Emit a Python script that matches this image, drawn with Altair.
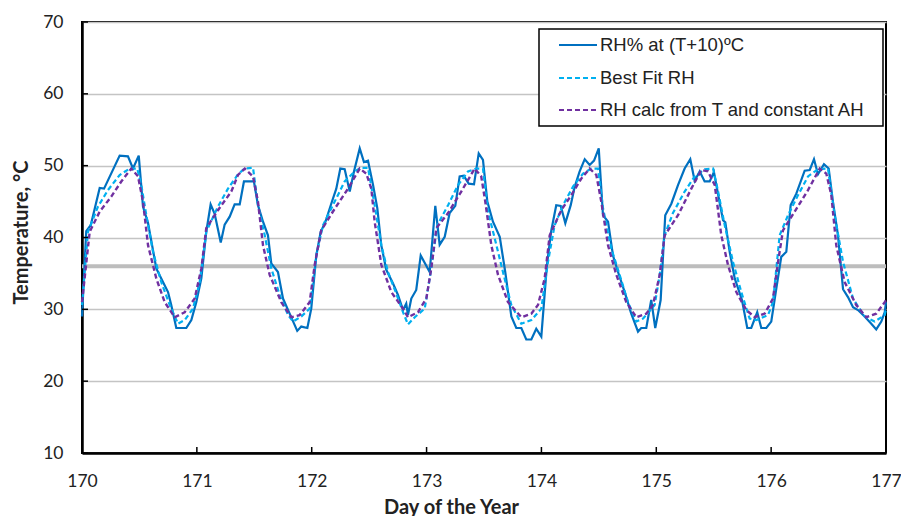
import altair as alt
import pandas as pd

series_names = ["RH% at (T+10)ºC", "Best Fit RH", "RH calc from T and constant AH"]
series_colors = ["#0070c0", "#00b0f0", "#7030a0"]
x_ticks = [170, 171, 172, 173, 174, 175, 176, 177]
y_ticks = [10, 20, 30, 40, 50, 60, 70]
ref_level = [36]

blue_day = [170.000, 170.037, 170.076, 170.154, 170.192, 170.328, 170.400, 170.444, 170.494, 170.531,
            170.575, 170.647, 170.705, 170.749, 170.777, 170.821, 170.908, 170.952, 170.995, 171.039,
            171.082, 171.120, 171.155, 171.208, 171.242, 171.286, 171.329, 171.373, 171.410, 171.497,
            171.532, 171.576, 171.619, 171.648, 171.706, 171.750, 171.808, 171.874, 171.909, 171.962,
            171.996, 172.040, 172.078, 172.118, 172.170, 172.214, 172.249, 172.287, 172.331, 172.368,
            172.418, 172.455, 172.490, 172.534, 172.571, 172.606, 172.649, 172.708, 172.751, 172.795,
            172.823, 172.838, 172.867, 172.910, 172.949, 173.027, 173.076, 173.114, 173.158, 173.201,
            173.250, 173.288, 173.323, 173.367, 173.413, 173.454, 173.491, 173.529, 173.578, 173.637,
            173.685, 173.738, 173.781, 173.825, 173.868, 173.912, 173.955, 173.999, 174.048, 174.086,
            174.129, 174.168, 174.208, 174.255, 174.290, 174.333, 174.377, 174.420, 174.458, 174.499,
            174.536, 174.580, 174.623, 174.667, 174.725, 174.782, 174.841, 174.869, 174.913, 174.956,
            174.991, 175.038, 175.078, 175.131, 175.189, 175.247, 175.296, 175.334, 175.378, 175.421,
            175.465, 175.502, 175.537, 175.581, 175.601, 175.639, 175.683, 175.746, 175.792, 175.827,
            175.879, 175.914, 175.958, 176.001, 176.045, 176.088, 176.132, 176.170, 176.219, 176.292,
            176.336, 176.373, 176.408, 176.460, 176.501, 176.538, 176.582, 176.626, 176.669, 176.713,
            176.756, 176.814, 176.872, 176.915, 176.959, 176.989, 177.000]
blue_val = [29.0, 40.9, 41.7, 46.9, 46.8, 51.4, 51.3, 49.6, 51.4, 44.3,
            42.0, 35.7, 33.8, 32.4, 30.6, 27.4, 27.4, 28.5, 31.0, 34.3,
            40.8, 44.6, 43.3, 39.3, 41.8, 42.9, 44.6, 44.6, 47.8, 47.8,
            44.5, 42.2, 40.3, 36.4, 35.2, 31.5, 29.4, 27.0, 27.6, 27.4,
            30.1, 37.5, 40.8, 42.1, 44.7, 46.8, 49.6, 49.5, 46.4, 49.2,
            52.4, 50.5, 50.7, 47.3, 44.1, 38.9, 35.5, 33.6, 32.0, 29.9,
            30.8, 29.2, 31.5, 32.7, 37.5, 35.2, 44.4, 39.0, 40.1, 43.4,
            44.4, 48.5, 48.6, 47.5, 47.4, 51.7, 50.8, 45.0, 42.2, 40.1,
            35.2, 29.0, 27.4, 27.4, 25.8, 25.8, 27.3, 26.2, 36.2, 41.0,
            44.5, 44.4, 42.0, 44.5, 47.1, 49.2, 50.9, 50.1, 50.7, 52.4,
            43.1, 42.2, 37.5, 35.2, 32.4, 29.4, 26.9, 27.4, 27.4, 31.3,
            27.4, 31.3, 43.1, 44.7, 47.3, 49.6, 50.9, 47.9, 49.2, 47.8,
            47.8, 49.1, 46.1, 42.4, 42.1, 38.0, 34.3, 31.3, 27.4, 27.4,
            29.6, 27.4, 27.4, 28.3, 32.9, 37.3, 38.0, 44.5, 46.1, 49.3,
            49.4, 50.9, 48.8, 50.2, 49.6, 45.0, 40.3, 32.8, 31.7, 30.3,
            29.9, 29.0, 28.0, 27.2, 28.3, 29.6, 31.0]

fit_day = [170.000, 170.052, 170.139, 170.226, 170.328, 170.415, 170.481, 170.516, 170.560, 170.618,
           170.690, 170.764, 170.836, 170.894, 170.966, 171.025, 171.082, 171.184, 171.271, 171.358,
           171.417, 171.489, 171.532, 171.591, 171.648, 171.721, 171.794, 171.837, 171.909, 171.982,
           172.040, 172.098, 172.200, 172.287, 172.374, 172.426, 172.490, 172.548, 172.606, 172.664,
           172.736, 172.795, 172.838, 172.897, 172.984, 173.041, 173.093, 173.187, 173.274, 173.361,
           173.433, 173.491, 173.535, 173.593, 173.665, 173.738, 173.825, 173.912, 173.999, 174.057,
           174.115, 174.188, 174.275, 174.362, 174.434, 174.492, 174.536, 174.608, 174.681, 174.754,
           174.826, 174.884, 174.986, 175.030, 175.073, 175.145, 175.247, 175.334, 175.421, 175.494,
           175.537, 175.596, 175.668, 175.740, 175.813, 175.871, 175.973, 176.016, 176.074, 176.147,
           176.234, 176.321, 176.408, 176.495, 176.553, 176.626, 176.713, 176.814, 176.901, 176.989,
           177.000]
fit_val = [30.6, 40.8, 44.3, 46.6, 48.7, 49.6, 49.6, 47.3, 43.1, 38.0,
           33.8, 30.6, 28.0, 28.5, 30.1, 33.8, 40.8, 44.3, 46.8, 48.8,
           49.6, 49.7, 44.5, 40.3, 35.7, 32.0, 29.2, 28.3, 29.0, 30.1,
           37.5, 41.7, 45.0, 47.8, 49.2, 49.7, 49.7, 44.5, 38.9, 35.2,
           32.2, 29.6, 27.9, 28.9, 30.1, 35.7, 41.7, 44.5, 47.3, 49.2,
           49.6, 49.6, 43.6, 39.9, 35.2, 30.6, 28.0, 28.5, 30.1, 36.6,
           41.7, 44.5, 47.1, 48.9, 49.6, 49.6, 44.1, 38.5, 34.8, 31.0,
           28.3, 28.7, 30.6, 34.8, 40.3, 43.4, 46.4, 48.5, 49.5, 49.6,
           46.5, 41.7, 36.6, 32.4, 28.7, 28.5, 29.2, 31.0, 40.3, 43.1,
           45.9, 48.5, 49.5, 49.6, 43.1, 36.6, 31.5, 29.0, 28.3, 29.2,
           30.0]

calc_day = [170.000, 170.067, 170.154, 170.255, 170.342, 170.429, 170.488, 170.531, 170.575, 170.647,
            170.720, 170.807, 170.894, 170.981, 171.039, 171.082, 171.184, 171.300, 171.358, 171.417,
            171.489, 171.532, 171.576, 171.634, 171.735, 171.822, 171.895, 171.982, 172.026, 172.083,
            172.200, 172.316, 172.418, 172.475, 172.519, 172.548, 172.606, 172.693, 172.795, 172.838,
            172.925, 172.998, 173.041, 173.085, 173.187, 173.302, 173.419, 173.476, 173.511, 173.564,
            173.622, 173.709, 173.825, 173.912, 173.970, 174.028, 174.072, 174.173, 174.260, 174.347,
            174.420, 174.478, 174.521, 174.580, 174.652, 174.739, 174.826, 174.913, 174.971, 175.030,
            175.073, 175.189, 175.305, 175.392, 175.450, 175.509, 175.566, 175.624, 175.697, 175.784,
            175.857, 175.944, 176.016, 176.060, 176.103, 176.205, 176.321, 176.423, 176.480, 176.524,
            176.567, 176.640, 176.741, 176.828, 176.915, 176.989, 177.000]
calc_val = [31.0, 40.8, 43.6, 45.7, 47.8, 49.6, 48.5, 45.0, 38.9, 34.3,
            31.0, 28.9, 29.6, 31.5, 35.7, 41.3, 43.8, 46.4, 48.7, 49.6,
            48.5, 45.0, 38.9, 34.8, 31.0, 28.9, 29.2, 31.0, 36.2, 41.0,
            44.0, 46.8, 49.6, 48.9, 46.8, 42.2, 36.2, 32.4, 30.1, 28.9,
            29.6, 31.5, 35.7, 41.3, 43.4, 46.4, 49.6, 48.5, 45.0, 38.9,
            34.8, 31.0, 28.9, 29.4, 30.6, 34.3, 40.3, 43.8, 45.9, 48.2,
            49.6, 48.7, 45.0, 38.9, 34.8, 31.0, 28.9, 29.4, 30.6, 34.8,
            40.3, 43.1, 46.8, 49.4, 49.2, 47.3, 40.3, 36.2, 32.4, 29.9,
            28.9, 29.4, 31.5, 36.6, 41.0, 43.6, 46.6, 49.6, 48.9, 45.9,
            38.9, 33.8, 30.6, 28.9, 29.4, 31.0, 31.3]

W, H = 804, 431
TICK_FONT = "Lato"
LEG_FONT = "Liberation Sans"

xs = alt.Scale(domain=[170, 177], nice=False, zero=False)
ys = alt.Scale(domain=[10, 70], nice=False, zero=False)

df_blue = pd.DataFrame({"day": blue_day, "val": blue_val})
df_fit = pd.DataFrame({"day": fit_day, "val": fit_val})
df_calc = pd.DataFrame({"day": calc_day, "val": calc_val})

x_axis = alt.Axis(values=x_ticks, format="d", title="Day of the Year", grid=False,
                  ticks=False, tickSize=0, labelPadding=19, labelFontSize=17.5, labelFont=TICK_FONT,
                  labelColor="#222222", titleFont=TICK_FONT, titleFontSize=20, titleFontWeight="bold",
                  titleColor="#222222", titleX=369, titleY=54, titleBaseline="middle",
                  domainColor="black", domainWidth=2.5, labelFlush=False)
y_axis = alt.Axis(values=y_ticks, title="Temperature, °C", grid=True, gridColor="#c4c4c4",
                  gridWidth=1.5, ticks=False, tickSize=0, labelPadding=19, labelFontSize=17.5,
                  labelFont=TICK_FONT, labelColor="#222222", titleFont=TICK_FONT, titleFontSize=20,
                  titleFontWeight="bold", titleColor="#222222", titleX=-61, titleY=210,
                  titleBaseline="middle", domainColor="black", domainWidth=2.5)


def X(field):
    return alt.X(field, scale=xs, axis=x_axis, title="Day of the Year")


def Y(field):
    return alt.Y(field, scale=ys, axis=y_axis, title="Temperature, °C")


ref = alt.Chart(pd.DataFrame({"v": ref_level})).mark_rule(color="#bdbdbd", strokeWidth=4).encode(
    y=Y("v:Q"), x=alt.value(0), x2=alt.value(W))

blue = alt.Chart(df_blue).mark_line(color=series_colors[0], strokeWidth=2.2).encode(
    x=X("day:Q"), y=Y("val:Q"))
fit = alt.Chart(df_fit).mark_line(color=series_colors[1], strokeWidth=2.2, strokeDash=[5, 3]).encode(
    x=X("day:Q"), y=Y("val:Q"))
calc = alt.Chart(df_calc).mark_line(color=series_colors[2], strokeWidth=2.4, strokeDash=[5, 3]).encode(
    x=X("day:Q"), y=Y("val:Q"))

yt = alt.Chart(pd.DataFrame({"v": y_ticks})).mark_rule(color="black", strokeWidth=1.5).encode(
    y=Y("v:Q"), x=alt.value(0), x2=alt.value(6))
xt = alt.Chart(pd.DataFrame({"v": x_ticks})).mark_rule(color="black", strokeWidth=1.5).encode(
    x=X("v:Q"), y=alt.value(H), y2=alt.value(H - 6))

one = pd.DataFrame({"a": [0]})
leg_box = alt.Chart(one).mark_rect(fill="white", stroke="black", strokeWidth=1.5).encode(
    x=alt.value(457), x2=alt.value(801), y=alt.value(7), y2=alt.value(104))

leg_layers = [leg_box]
row_y = [23, 56, 88]
dashes = [None, [5, 3], [5, 3]]
for i, name in enumerate(series_names):
    kw = dict(color=series_colors[i], strokeWidth=2.2)
    if dashes[i]:
        kw["strokeDash"] = dashes[i]
    leg_layers.append(alt.Chart(one).mark_rule(**kw).encode(
        x=alt.value(477), x2=alt.value(515), y=alt.value(row_y[i])))
    leg_layers.append(alt.Chart(pd.DataFrame({"label": [name]})).mark_text(
        align="left", baseline="middle", font=LEG_FONT, fontSize=18.5, color="#222222").encode(
        x=alt.value(518), y=alt.value(row_y[i]), text="label:N"))

chart = alt.layer(ref, blue, fit, calc, yt, xt, *leg_layers).properties(
    width=W, height=H,
    autosize=alt.AutoSizeParams(type="none"),
    padding={"left": 82, "top": 22, "right": 15, "bottom": 63},
    background="white",
).configure_view(stroke="black", strokeWidth=2)

chart.save("out.html", embed_options={"renderer": "svg", "actions": False})
